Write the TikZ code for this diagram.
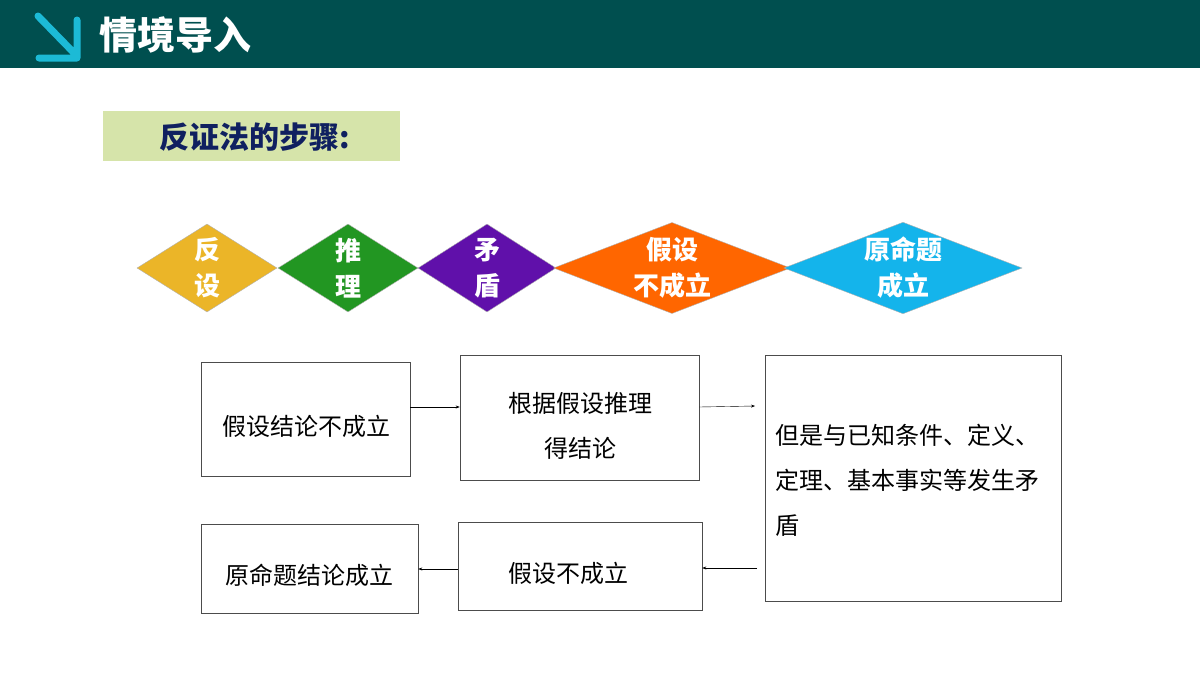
\documentclass[tikz,border=0pt]{standalone}
\usepackage{fontspec}
\newfontfamily\cjk{Noto Sans CJK SC}
\newfontfamily\cjkb{Noto Sans CJK SC Black}
\usetikzlibrary{shapes.geometric,arrows.meta}
\definecolor{hdr}{RGB}{0,79,79}
\definecolor{icon}{RGB}{28,186,214}
\definecolor{lbg}{RGB}{214,228,170}
\definecolor{navy}{RGB}{16,32,96}
\tikzset{
 dia/.style={diamond,aspect=#1,draw=gray!60,inner sep=0pt,text=white,font=\cjkb\fontsize{26}{36}\selectfont,align=center},
 bx/.style={draw=black!70,line width=0.6pt,font=\cjk\fontsize{24}{45}\selectfont,align=center},
 ar/.style={-{Stealth[length=4pt,width=3pt]},line width=0.4pt}
}
\begin{document}
\begin{tikzpicture}[x=1pt,y=-1pt]
\useasboundingbox (0,0) rectangle (1200,675);
\fill[hdr] (0,0) rectangle (1200,68);
\draw[icon,line width=7pt,line cap=round,line join=round] (38,16)--(76,55) (39,58)--(77,58)--(77,20);
\node[anchor=west,text=white,font=\cjk\bfseries\fontsize{38}{40}\selectfont] (t) at (96,35) {情境导入};
\fill[lbg] (103,111) rectangle (400,161);
\node[text=navy,font=\cjkb\fontsize{30}{32}\selectfont] (s) at (255,137) {反证法的步骤:};
\node[dia=1.59,fill={rgb,255:red,235;green,181;blue,40},minimum width=140,minimum height=88] (d1) at (207,268) {反\\设};
\node[dia=1.59,fill={rgb,255:red,34;green,150;blue,34},minimum width=140,minimum height=88] (d2) at (348,268) {推\\理};
\node[dia=1.57,fill={rgb,255:red,96;green,16;blue,170},minimum width=138,minimum height=88] (d3) at (487,268) {矛\\盾};
\node[dia=2.6,fill={rgb,255:red,255;green,102;blue,0},minimum width=225,minimum height=86] (d4) at (672,268) {假设\\不成立};
\node[dia=2.6,fill={rgb,255:red,20;green,180;blue,235},minimum width=225,minimum height=86] (d5) at (903,268) {原命题\\成立};
\node[bx,minimum width=209,minimum height=114] (a) at (305.5,419) {};
\node[font=\cjk\fontsize{24}{30}\selectfont] (at) at (306,426) {假设结论不成立};
\node[bx,minimum width=239,minimum height=125] (b) at (579.5,417.5) {};
\node[font=\cjk\fontsize{24}{45}\selectfont,align=center] (bt) at (580,426) {根据假设推理\\得结论};
\node[bx,minimum width=296,minimum height=246] (c) at (913,478) {};
\node[anchor=north west,font=\cjk\fontsize{24}{45}\selectfont,align=left,text width=290] (ct) at (772,421) {但是与已知条件、定义、\\定理、基本事实等发生矛\\盾};
\node[bx,minimum width=217,minimum height=89] (d) at (309.5,568.5) {};
\node[font=\cjk\fontsize{24}{30}\selectfont] (dt) at (309.5,575) {原命题结论成立};
\node[bx,minimum width=244,minimum height=88] (e) at (580,566) {};
\node[font=\cjk\fontsize{24}{30}\selectfont] (et) at (568,573) {假设不成立};
\coordinate (c1) at (755,406);
\coordinate (c2) at (757,568);
\draw[ar] (a.east |- 0,407) -- (b.west |- 0,407);
\draw[ar] (b.east |- 0,407) -- (c1);
\draw[ar] (c2) -- (e.east |- 0,568);
\draw[ar] (e.west |- 0,569) -- (d.east |- 0,569);
\end{tikzpicture}
\end{document}
